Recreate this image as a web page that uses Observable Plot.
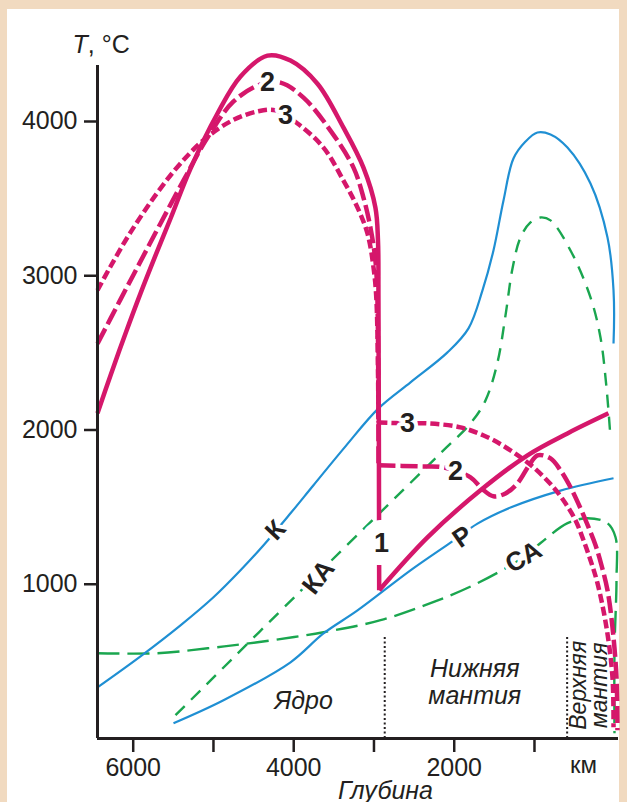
<!DOCTYPE html>
<html><head><meta charset="utf-8">
<script src="https://cdn.jsdelivr.net/npm/d3@7"></script>
<script src="https://cdn.jsdelivr.net/npm/@observablehq/plot@0.6"></script>
<style>
html,body{margin:0;padding:0;background:#f1dac0;width:627px;height:802px;overflow:hidden}
#panel{position:absolute;left:7px;top:9px;width:612px;height:800px;background:#fff}
#chart{position:absolute;left:0;top:0}
</style></head><body><div id="panel"></div><div id="chart"></div>
<script>
// [depth km, T °C]
const curve1Arc = [[6445,2108],[6283,2354],[6096,2626],[5909,2886],[5722,3132],[5535,3371],[5286,3695],[4950,4052],[4663,4292],[4327,4427],[4040,4395],[3704,4245],[3380,3960],[3131,3701],[2982,3442],[2950,3228],[2944,2840],[2935,961]];
const curve1Rise = [[2935,961],[2333,1304],[1673,1609],[1087,1836],[589,1978],[78,2108]];
const curve2Arc = [[6445,2560],[6158,2847],[5909,3093],[5660,3339],[5373,3618],[5074,3896],[4750,4130],[4414,4240],[4165,4252],[3878,4155],[3542,3941],[3255,3701],[3131,3507],[3044,3312],[2982,3098],[2957,2839],[2944,1771]];
const curve2Tail = [[2944,1771],[2420,1764],[2134,1758],[1797,1693],[1648,1616],[1511,1570],[1361,1589],[1212,1654],[1075,1764],[963,1836],[800,1816],[676,1739],[551,1629],[427,1493],[327,1370],[239,1253],[165,1123],[90,961],[28,721],[-22,397],[-34,54]];
const curve3Arc = [[6445,2906],[6283,3060],[6034,3281],[5697,3540],[5411,3728],[5100,3890],[4764,4007],[4451,4065],[4226,4072],[3953,3987],[3629,3831],[3380,3617],[3205,3442],[3081,3274],[3006,3055],[2969,2839],[2944,2049]];
const curve3Tail = [[2944,2049],[2582,2043],[2333,2043],[1922,2017],[1585,1953],[1299,1868],[1012,1758],[763,1628],[614,1525],[489,1415],[389,1285],[302,1156],[215,1007],[103,721],[28,397],[15,73]];
const curveK = [[6445,332],[5909,533],[5411,734],[5000,916],[4663,1091],[4376,1253],[4040,1460],[3754,1642],[3355,1894],[2944,2140],[2545,2309],[2084,2503],[1822,2659],[1648,2905],[1511,3164],[1386,3488],[1262,3760],[1112,3870],[963,3929],[800,3916],[589,3831],[302,3598],[90,3248],[15,2905],[15,2561]];
const curveKA = [[5473,151],[3666,1084],[2171,1849],[1797,2043],[1610,2192],[1461,2438],[1361,2743],[1274,3047],[1174,3248],[1050,3346],[925,3378],[800,3359],[551,3164],[302,2860],[178,2601],[103,2277],[53,1952]];
const curveP = [[5498,99],[4875,248],[4040,494],[3629,681],[3205,830],[2545,1090],[2009,1283],[1710,1393],[1299,1497],[676,1607],[15,1687]];
const curveCA = [[6445,553],[5697,553],[5072,585],[4451,624],[3629,689],[2918,767],[2296,877],[1710,1007],[1136,1176],[924,1267],[588,1396],[339,1428],[90,1396],[-10,1305],[-22,1026],[3,573],[3,34]];

const depthTicks = [6000,5000,4000,3000,2000,1000];
const depthTickLabels = [6000,4000,2000];
const tempTicks = [1000,2000,3000,4000];
const layerBoundaries = [2866,593];

const numberLabels = [
  {text:"2", depth:4327, T:4253},
  {text:"3", depth:4102, T:4039},
  {text:"3", depth:2582, T:2043},
  {text:"2", depth:1983, T:1731}
];
const oneLabel = [{text:"1", depth:2906, T:1266}];
const seriesLabels = [
  {text:"К", depth:4227, T:1350, rotate:-47},
  {text:"КА", depth:3691, T:1045, rotate:-52},
  {text:"Р", depth:1897, T:1306, rotate:-35},
  {text:"СА", depth:1136, T:1176, rotate:-30}
];
const regionLabels = [
  {text:"Ядро", depth:3878, T:248},
  {text:"Нижняя\nмантия", depth:1744, T:365}
];
const upperMantle = [{text:"Верхняя\nмантия", depth:314, T:345}];

const MAG = "#d5176b", BLUE = "#1f8fd3", GREEN = "#1aa64f", INK = "#231f20";
const FONT = "'Liberation Sans', Arial, Helvetica, sans-serif";
const px = d => d[0], py = d => d[1];

const line = (data, o) => Plot.line(data, {x: px, y: py, curve: "catmull-rom", strokeLinecap: "butt", ...o});

const chart = Plot.plot({
  width: 627, height: 802,
  marginLeft: 97, marginRight: 9, marginTop: 65, marginBottom: 64,
  style: {fontFamily: FONT, background: "transparent", color: INK, overflow: "visible"},
  x: {domain: [6445, -47]},
  y: {domain: [0, 4363]},
  marks: [
    Plot.ruleX(layerBoundaries, {y1: 0, y2: 663, stroke: INK, strokeWidth: 2, strokeDasharray: "2 2.5"}),
    line(curveCA, {stroke: GREEN, strokeWidth: 2.4, strokeDasharray: "22 8"}),
    line(curveKA, {stroke: GREEN, strokeWidth: 2.4, strokeDasharray: "13 9"}),
    line(curveK, {stroke: BLUE, strokeWidth: 2.2}),
    line(curveP, {stroke: BLUE, strokeWidth: 2.2}),
    line(curve3Arc, {stroke: MAG, strokeWidth: 4.5, strokeDasharray: "9 4"}),
    line(curve3Tail, {stroke: MAG, strokeWidth: 4.5, strokeDasharray: "9 4"}),
    line(curve2Arc, {stroke: MAG, strokeWidth: 4.5, strokeDasharray: "17 5"}),
    line(curve2Tail, {stroke: MAG, strokeWidth: 4.5, strokeDasharray: "17 5"}),
    line(curve1Arc, {stroke: MAG, strokeWidth: 4.5, strokeLinejoin: "miter"}),
    line(curve1Rise, {stroke: MAG, strokeWidth: 4.5}),
    Plot.text(seriesLabels, {x: "depth", y: "T", text: "text", rotate: d => d.rotate, fontSize: 26, fontWeight: "bold", fill: INK, stroke: "white", strokeWidth: 8, paintOrder: "stroke"}),
    Plot.text(numberLabels, {x: "depth", y: "T", text: "text", fontSize: 27, fontWeight: "bold", fill: INK, stroke: "white", strokeWidth: 8, paintOrder: "stroke"}),
    Plot.text(oneLabel, {x: "depth", y: "T", text: "text", fontSize: 27, fontWeight: "bold", fill: INK, stroke: "white", strokeWidth: 26, paintOrder: "stroke"}),
    Plot.text(regionLabels, {x: "depth", y: "T", text: "text", fontSize: 25, fontStyle: "italic", fill: INK, lineHeight: 1.05}),
    Plot.text(upperMantle, {x: "depth", y: "T", text: "text", fontSize: 23, fontStyle: "italic", fill: INK, rotate: -90, lineHeight: 0.92}),
    Plot.ruleX([6445], {y1: 0, y2: 4363, stroke: INK, strokeWidth: 3}),
    Plot.ruleY([0], {x1: 6445, x2: -47, stroke: INK, strokeWidth: 3}),
    Plot.axisY({ticks: tempTicks, tickSize: 13, tickPadding: 7, fontSize: 25, strokeWidth: 2.5, label: null, tickFormat: d => String(d)}),
    Plot.axisX({ticks: depthTicks, tickSize: 14, tickPadding: 6, fontSize: 25, strokeWidth: 2.5, label: null,
      tickFormat: d => depthTickLabels.includes(d) ? String(d) : ""}),
    Plot.text(["км"], {x: 390, y: 0, dy: 27, fontSize: 24, fill: INK}),
    Plot.text(["Глубина"], {x: 2856, y: 0, dy: 52, fontSize: 25, fontStyle: "italic", fill: INK}),
    Plot.text(["T, °C"], {x: 6445, y: 4363, dx: -25, dy: -21, textAnchor: "start", fontSize: 25, fill: INK, className: "tlabel"})
  ]
});
document.getElementById("chart").appendChild(chart);
chart.querySelectorAll(".tlabel text").forEach(t => {
  t.textContent = "";
  const it = document.createElementNS("http://www.w3.org/2000/svg", "tspan");
  it.setAttribute("font-style", "italic");
  it.textContent = "T";
  t.appendChild(it);
  t.appendChild(document.createTextNode(", °C"));
});
</script>
</body></html>
